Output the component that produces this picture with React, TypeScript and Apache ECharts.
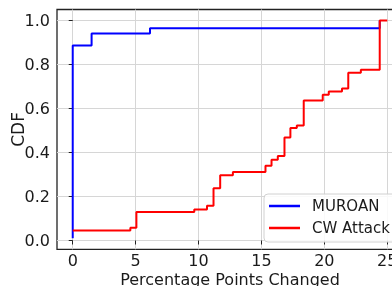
import React, { useEffect, useRef } from "react";
import * as echarts from "echarts";

const xTicks = [0, 5, 10, 15, 20, 25];
const yTicks = [0, 0.2, 0.4, 0.6, 0.8, 1.0];

const muroanX = [0, 0, 1.5, 6.14, 24.4, 24.4];
const muroanY = [0.01, 0.886, 0.941, 0.965, 0.965, 1.0];

const cwX = [0, 4.58, 5.06, 9.66, 10.67, 11.19, 11.72, 12.73, 15.32, 15.8, 16.3, 16.83, 17.3, 17.81, 18.36, 19.87, 20.35, 21.4, 21.9, 22.9, 24.4, 25];
const cwY = [0.045, 0.058, 0.129, 0.141, 0.158, 0.238, 0.297, 0.311, 0.34, 0.367, 0.384, 0.468, 0.511, 0.523, 0.636, 0.662, 0.677, 0.691, 0.762, 0.776, 1.0, 1.0];

const FONT = "DejaVu Sans";

export default function App() {
  const ref = useRef<HTMLDivElement>(null);
  useEffect(() => {
    if (!ref.current) return;
    const chart = echarts.init(ref.current, null, { renderer: "svg" });
    chart.setOption({
      animation: false,
      textStyle: { fontFamily: FONT },
      grid: {
        left: 57,
        top: 9.5,
        right: -11,
        bottom: 36.7,
        outerBoundsMode: "none",
        containLabel: false,
        show: true,
        borderColor: "#222",
        borderWidth: 1.3,
        backgroundColor: "transparent",
      },
      legend: {
        orient: "vertical",
        left: 264,
        top: 194,
        padding: [4, 12, 6, 5],
        itemGap: 6,
        itemWidth: 31,
        itemHeight: 2.5,
        icon: "rect",
        backgroundColor: "rgba(255,255,255,0.85)",
        borderColor: "#d0d0d0",
        borderWidth: 1,
        borderRadius: 4,
        textStyle: { fontFamily: FONT, fontSize: 15, color: "#1a1a1a", lineHeight: 16, padding: [0, 0, 0, 7] },
        data: ["MUROAN", "CW Attack"],
      },
      xAxis: {
        type: "value",
        min: -1.25,
        max: 26.25,
        name: "Percentage Points Changed",
        nameLocation: "middle",
        nameGap: 21.9,
        nameMoveOverlap: false,
        nameTextStyle: { fontFamily: FONT, fontSize: 16, color: "#1a1a1a" },
        axisLine: { show: false },
        axisTick: { show: true, customValues: xTicks, length: 4, lineStyle: { color: "#222", width: 1 } },
        axisLabel: { customValues: xTicks, fontFamily: FONT, fontSize: 16, color: "#1a1a1a", margin: 3.2 },
        splitLine: { show: true, lineStyle: { color: "#d6d6d6", width: 1 } },
      },
      yAxis: {
        type: "value",
        min: -0.04,
        max: 1.05,
        name: "CDF",
        nameLocation: "middle",
        nameGap: 31,
        nameMoveOverlap: false,
        nameTextStyle: { fontFamily: FONT, fontSize: 17, color: "#1a1a1a" },
        axisLine: { show: false },
        axisTick: { show: true, customValues: yTicks, length: 4, lineStyle: { color: "#222", width: 1 } },
        axisLabel: {
          customValues: yTicks,
          fontFamily: FONT,
          fontSize: 16,
          color: "#1a1a1a",
          margin: 7,
          formatter: (v: number) => v.toFixed(1),
        },
        splitLine: { show: true, lineStyle: { color: "#d6d6d6", width: 1 } },
      },
      series: [
        {
          name: "MUROAN",
          type: "line",
          step: "end",
          symbol: "none",
          color: "#0000ff",
          lineStyle: { width: 2, color: "#0000ff" },
          data: muroanX.map((x, i) => [x, muroanY[i]]),
          z: 2,
        },
        {
          name: "CW Attack",
          type: "line",
          step: "end",
          symbol: "none",
          color: "#ff0000",
          lineStyle: { width: 2, color: "#ff0000" },
          data: cwX.map((x, i) => [x, cwY[i]]),
          z: 3,
        },
      ],
    });
    return () => chart.dispose();
  }, []);
  return <div ref={ref} style={{ position: "fixed", left: 0, top: 0, width: 392, height: 286 }} />;
}
